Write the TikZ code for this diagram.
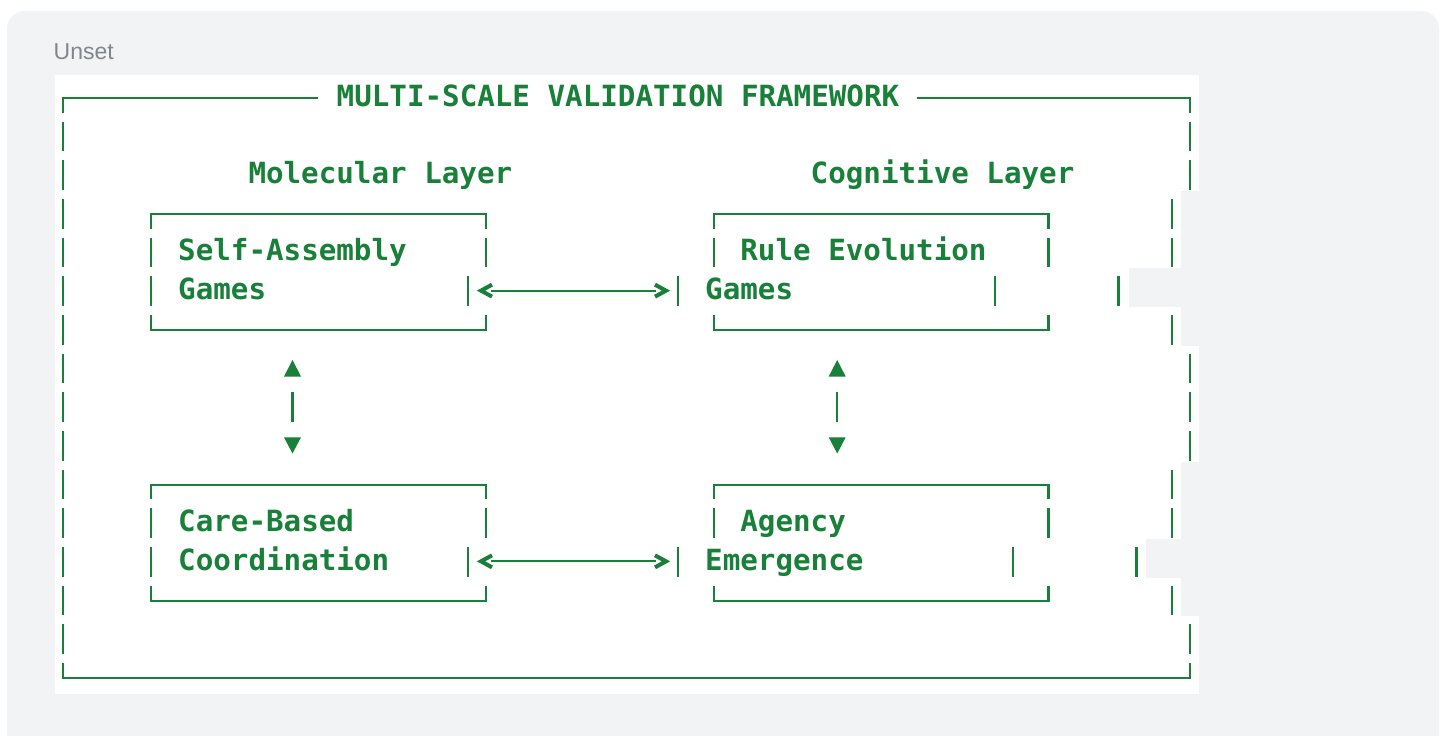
\documentclass[tikz, border=0pt]{standalone}
\usepackage{fontspec}
\setmainfont{Liberation Sans}
\newfontfamily\codefont{DejaVu Sans Mono}
\usetikzlibrary{arrows.meta}

\definecolor{codegreen}{HTML}{188038}
\definecolor{panelgrey}{HTML}{F1F3F4}
\definecolor{langgrey}{HTML}{80868B}

% centre of a text row of the code block (px)
\newcommand{\rowy}[1]{98.3 + 38.67 * #1}
\newcommand{\pipeseg}[2]{\draw[asciiline] (#1, {\rowy{#2} - 15.3}) -- (#1, {\rowy{#2} + 14.4});}
\newcommand{\topedge}[3]{\draw[asciiline] (#1, {\rowy{#3} + 14.4}) -- (#1, {\rowy{#3}})
  -- (#2, {\rowy{#3}}) -- (#2, {\rowy{#3} + 14.4});}
\newcommand{\bottomedge}[3]{\draw[asciiline] (#1, {\rowy{#3} - 15.3}) -- (#1, {\rowy{#3}})
  -- (#2, {\rowy{#3}}) -- (#2, {\rowy{#3} - 15.3});}

\tikzset{
  asciiline/.style = {draw = codegreen, line width = 2.2pt},
  chevron/.style = {draw = codegreen, line width = 4pt, miter limit = 4},
  codetext/.style = {text = codegreen, inner sep = 0pt, anchor = base west,
    font = \codefont\bfseries\fontsize{29.2}{32}\selectfont}
}

\begin{document}
\begin{tikzpicture}[x = 1pt, y = -1pt]
  \useasboundingbox (0, 0) rectangle (1440, 736);
  \fill[white] (0, 0) rectangle (1440, 736);
  \fill[panelgrey, rounded corners = 18pt] (7, 11) rectangle (1439, 780);

  % code block, line by line
  \fill[white] (55, 75) rectangle (1181, 694);
  \fill[white] (1181, 75) rectangle (1199, 191);
  \fill[white] (1181, 345.7) rectangle (1199, 461.7);
  \fill[white] (1181, 616.4) rectangle (1199, 694);
  \fill[panelgrey] (1129, 268.3) rectangle (1181, 307);
  \fill[panelgrey] (1146, 539) rectangle (1181, 577.7);

  \node[anchor = base west, inner sep = 0pt, text = langgrey,
    font = \fontsize{23}{24}\selectfont] (lang) at (53.5, 59.3) {Unset};

  % outer frame
  \draw[asciiline] (63, {\rowy{0} + 14.4}) -- (63, {\rowy{0}}) -- (318, {\rowy{0}});
  \draw[asciiline] (916.7, {\rowy{0}}) -- (1190, {\rowy{0}}) -- (1190, {\rowy{0} + 14.4});
  \bottomedge{63}{1190}{15}
  \foreach \r in {1, ..., 14} {\pipeseg{63}{\r}}
  \foreach \r in {1, 2, 7, 8, 9, 14} {\pipeseg{1190}{\r}}
  \foreach \r in {3, 4, 6, 10, 11, 13} {\pipeseg{1172}{\r}}
  \pipeseg{1118.5}{5}
  \pipeseg{1136.5}{12}

  \node[codetext] (frametitle) at (336.5, {\rowy{0} + 7.7}) {MULTI-SCALE VALIDATION FRAMEWORK};
  \node[codetext] (mollayer) at (248.3, {\rowy{2} + 7.7}) {Molecular Layer};
  \node[codetext] (coglayer) at (810.5, {\rowy{2} + 7.7}) {Cognitive Layer};

  % the four boxes
  \foreach \r in {3, 10} {\topedge{151}{486}{\r} \topedge{714}{1048.5}{\r}}
  \foreach \r in {6, 13} {\bottomedge{151}{486}{\r} \bottomedge{714}{1048.5}{\r}}
  \foreach \r in {4, 5, 11, 12} {\pipeseg{151}{\r}}
  \foreach \r in {4, 11} {\pipeseg{486}{\r} \pipeseg{714}{\r} \pipeseg{1048.5}{\r}}
  \foreach \r in {5, 12} {\pipeseg{467.7}{\r} \pipeseg{678.3}{\r}}
  \pipeseg{995}{5}
  \pipeseg{1013}{12}

  \node[codetext] (selfasm) at (178, {\rowy{4} + 7.7}) {Self-Assembly};
  \node[codetext] (selfgames) at (178, {\rowy{5} + 7.7}) {Games};
  \node[codetext] (ruleevo) at (740.2, {\rowy{4} + 7.7}) {Rule Evolution};
  \node[codetext] (rulegames) at (705, {\rowy{5} + 7.7}) {Games};
  \node[codetext] (care) at (178, {\rowy{11} + 7.7}) {Care-Based};
  \node[codetext] (coord) at (178, {\rowy{12} + 7.7}) {Coordination};
  \node[codetext] (agency) at (740.2, {\rowy{11} + 7.7}) {Agency};
  \node[codetext] (emerge) at (705, {\rowy{12} + 7.7}) {Emergence};

  % horizontal links: <----->
  \coordinate (gamesL) at (481, {\rowy{5} - 1});
  \coordinate (gamesR) at (666, {\rowy{5} - 1});
  \coordinate (coordL) at (481, {\rowy{12} - 1});
  \coordinate (coordR) at (666, {\rowy{12} - 1});
  \foreach \a/\b in {gamesL/gamesR, coordL/coordR} {
    \draw[asciiline] ([xshift = 10pt]\a) -- ([xshift = -10pt]\b);
    \draw[chevron] ([shift = {(11, -6)}]\a) -- (\a) -- ([shift = {(11, 6)}]\a);
    \draw[chevron] ([shift = {(-11, -6)}]\b) -- (\b) -- ([shift = {(-11, 6)}]\b);
  }

  % vertical links
  \foreach \x in {292.5, 837.2} {
    \fill[codegreen] (\x, 360) -- (\x + 8.5, 376.5) -- (\x - 8.5, 376.5) -- cycle;
    \pipeseg{\x}{8}
    \fill[codegreen] (\x - 8.5, 437.3) -- (\x + 8.5, 437.3) -- (\x, 453.5) -- cycle;
  }
\end{tikzpicture}
\end{document}
